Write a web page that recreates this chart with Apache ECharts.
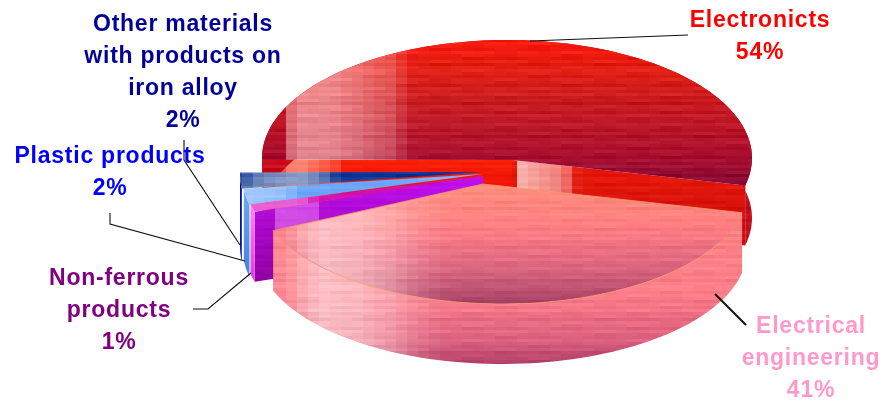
<!DOCTYPE html>
<html>
<head>
<meta charset="utf-8">
<script src="https://cdn.jsdelivr.net/npm/echarts@6/dist/echarts.min.js"></script>
<style>
html, body { margin: 0; padding: 0; background: #fff; }
#chart { width: 885px; height: 401px; }
</style>
</head>
<body>
<div id="chart"></div>
<script>
// draw order is back to front, the percentages go round the pie
const categories = ["Electronicts", "Other materials\nwith products on\niron alloy", "Plastic products", "Non-ferrous\nproducts", "Electrical\nengineering"];
const shares = [54, 2, 2, 1, 41];
const percentLabels = ["54%", "2%", "2%", "1%", "41%"];
const labelColors = ["#ff0000", "#000099", "#0000ff", "#800080", "#ff99cc"];

// where each label sits and where its leader runs
const labelPlaces = [[760, 5], [183, 9], [110, 141], [119, 263], [811, 311]];
const leaders = [
    [[530, 41], [688, 35]],
    [[184, 140], [184, 160], [240, 245]],
    [[110, 213], [110, 224], [245, 261]],
    [[193, 309], [208, 309], [251, 273]],
    [[715, 294], [746, 325]]
];
const leaderWidths = [1, 1.1, 1.1, 1.1, 2];

// slice ellipses: the start angle of the pink slice fixes the whole rotation
const firstAngle = 11;
const sliceOrder = [4, 3, 2, 1, 0];
const geometry = [
    { cx: 507, cy: 158, rx: 245, ry: 118, apex: [512, 160], depth: 60, turn: 2.5 },
    { cx: 485, cy: 173, rx: 245, ry: 130, apex: [483, 172], depth: 73, turn: 3.6 },
    { cx: 487, cy: 173, rx: 245, ry: 130, apex: [483, 174], depth: 72, turn: 3.6 },
    { cx: 488, cy: 173, rx: 245, ry: 127, apex: [483, 176], depth: 70, turn: 3.6 },
    { cx: 502, cy: 190, rx: 245, ry: 114, apex: [483, 184], depth: 60, turn: 0.5 }
];

// streak tables for the blocky picture fill
const rowStreaks = [2, -5, 4, 0, -8, 6, -2, 9, -4, 1, -10, 5, 3, -6, 8, -1, -3, 7, 0, -7, 4, -9, 2, 6];
const blockStreaks = [3, -2, 0, 5, -4, 1, -6, 2, 4, -3, 6, -1, 0, -5, 3];

function hex(c) {
    return [1, 3, 5].map(i => parseInt(c.substr(i, 2), 16));
}

function lookup(stops, v) {
    if (v <= stops[0][0]) return stops[0][1];
    for (let i = 1; i < stops.length; i++) {
        if (v <= stops[i][0]) {
            const a = stops[i - 1], b = stops[i];
            const k = (v - a[0]) / (b[0] - a[0]);
            if (typeof a[1] === "number") return a[1] + (b[1] - a[1]) * k;
            const ca = hex(a[1]), cb = hex(b[1]);
            return "#" + ca.map((x, j) => Math.round(x + (cb[j] - x) * k).toString(16).padStart(2, "0")).join("");
        }
    }
    return stops[stops.length - 1][1];
}

// full frame texture, so the fill can be used with page coordinates
function makeTexture(rows, cols, tint, streak, blockW) {
    const canvas = document.createElement("canvas");
    canvas.width = 885;
    canvas.height = 401;
    const ctx = canvas.getContext("2d");
    const t = hex(tint);
    for (let x = 0; x < 885; x += blockW) {
        const w = lookup(cols, x + blockW / 2);
        for (let y = 0; y < 401; y += 3) {
            const r = Math.floor(y / 3), c = Math.floor(x / blockW);
            const base = hex(lookup(rows, y + 1));
            const n = (rowStreaks[r % rowStreaks.length] + blockStreaks[(r * 3 + c * 7) % blockStreaks.length]) * streak;
            const px = base.map((v, i) => {
                const m = v + (t[i] - v) * w + n;
                return Math.max(0, Math.min(255, Math.round(m)));
            });
            ctx.fillStyle = "rgb(" + px.join(",") + ")";
            ctx.fillRect(x, y, blockW, 3);
        }
    }
    return { image: canvas, repeat: "no-repeat" };
}

const redPale = [[0, 0], [285, 0], [286, 0.45], [300, 0.75], [335, 0.72], [370, 0.5], [395, 0.35], [405, 0.12], [415, 0.03], [885, 0]];
const pinkPale = [[272, 0.08], [288, 0.22], [305, 0.6], [320, 0.8], [360, 0.7], [395, 0.45], [420, 0.2], [450, 0.05], [885, 0]];

const textures = {
    redTop: makeTexture([[40, "#f81408"], [70, "#e01c12"], [100, "#c8181c"], [130, "#b81428"], [155, "#a80c2c"], [190, "#800838"]], redPale, "#f8b0b4", 0.9, 11),
    redLeft: makeTexture([[160, "#f82008"], [190, "#f01008"]], [[0, 0], [278, 0.05], [282, 0.55], [300, 0.65], [335, 0.25], [345, 0], [885, 0]], "#ffc0b0", 0.4, 11),
    redRight: makeTexture([[165, "#e81808"], [250, "#c80c10"]], [[0, 0], [518, 0], [522, 0.75], [555, 0.55], [575, 0.3], [578, 0], [885, 0]], "#ffe0e0", 0.6, 11),
    redWall: makeTexture([[150, "#c80818"], [250, "#c01020"]], [[0, 0], [885, 0]], "#ffffff", 0.8, 11),
    navyTop: makeTexture([[170, "#0030a0"], [180, "#083090"], [190, "#284890"]], [[240, 0.2], [262, 0.55], [300, 0.7], [320, 0.5], [340, 0.05], [885, 0]], "#c8d0e0", 0.8, 11),
    navyWall: makeTexture([[170, "#001080"], [250, "#0818a0"]], [[0, 0], [885, 0]], "#ffffff", 0, 11),
    blueTop: makeTexture([[175, "#60a0ff"], [205, "#4a90f0"]], [[240, 0.7], [285, 0.55], [300, 0.2], [400, 0.15], [485, 0.4]], "#c8e0ff", 0.5, 11),
    blueWall: makeTexture([[190, "#70a8f0"], [265, "#4888e0"]], [[0, 0], [885, 0]], "#ffffff", 0, 11),
    magentaTop: makeTexture([[175, "#c800b0"], [210, "#d000a0"]], [[240, 0.55], [300, 0.55], [320, 0.1], [885, 0]], "#ffb0ff", 0.4, 11),
    magentaCut: makeTexture([[176, "#c010f0"], [280, "#9000a0"]], [[250, 0], [272, 0], [275, 0.45], [315, 0.4], [325, 0], [885, 0]], "#ffa0ff", 0.4, 11),
    magentaWall: makeTexture([[205, "#ff80ff"], [275, "#e040e0"]], [[0, 0], [885, 0]], "#ffffff", 0, 11),
    pinkTop: makeTexture([[184, "#ff8a78"], [225, "#ff7c80"], [250, "#ea6c80"], [275, "#d05c78"], [305, "#a03860"]], pinkPale, "#ffd0d4", 0.7, 11),
    pinkWall: makeTexture([[220, "#f88080"], [290, "#ff7c88"], [320, "#e86880"], [345, "#d45878"], [365, "#a83060"]], pinkPale, "#ffd0d4", 0.8, 11)
};

const faces = [
    { top: "redTop", wall: "redWall", startCut: "redLeft", endCut: "redRight" },
    { top: "navyTop", wall: "navyWall" },
    { top: "blueTop", wall: "blueWall" },
    { top: "magentaTop", wall: "magentaWall", startCut: "magentaCut" },
    { top: "pinkTop", wall: "pinkWall", edge: "#f29a68" }
];

// angle span of each slice, worked out from the percentages
const spans = {};
let running = firstAngle;
sliceOrder.forEach(i => {
    const sweep = shares[i] * 3.6;
    spans[i] = [running, running + sweep];
    running += sweep;
});

function rimPoints(g, from, to, drop) {
    const pts = [];
    const n = Math.max(2, Math.ceil((to - from) / 2));
    for (let k = 0; k <= n; k++) {
        const a = (from + (to - from) * k / n) * Math.PI / 180;
        pts.push([g.cx + g.rx * Math.cos(a), g.cy + g.ry * Math.sin(a) + drop]);
    }
    return pts;
}

function cutFace(g, p, tex) {
    return {
        type: "polygon",
        shape: { points: [g.apex, p, [p[0], p[1] + g.depth], [g.apex[0], g.apex[1] + g.depth]] },
        style: { fill: textures[tex] },
        silent: true
    };
}

function renderSlice(params, api) {
    const i = api.value(0);
    const g = geometry[i];
    const f = faces[i];
    const from = spans[i][0] + g.turn;
    const to = spans[i][1] + g.turn;
    const rim = rimPoints(g, from, to, 0);
    const lower = rimPoints(g, from, to, g.depth).reverse();
    const children = [];
    if (f.endCut) children.push(cutFace(g, rim[rim.length - 1], f.endCut));
    if (f.startCut) children.push(cutFace(g, rim[0], f.startCut));
    children.push({
        type: "polygon",
        shape: { points: rim.concat(lower) },
        style: { fill: textures[f.wall] },
        silent: true
    });
    children.push({
        type: "polygon",
        shape: { points: [g.apex].concat(rim) },
        style: { fill: textures[f.top], stroke: f.edge || null, lineWidth: f.edge ? 0.8 : 0 },
        silent: true
    });
    return { type: "group", children: children };
}

const labelFont = 'bold 23px "Liberation Sans", Arial, sans-serif';

const graphics = [];
leaders.forEach((line, i) => {
    graphics.push({
        type: "polyline",
        z: 10,
        shape: { points: line },
        style: { stroke: "#111", lineWidth: leaderWidths[i], fill: null },
        silent: true
    });
});
categories.forEach((name, i) => {
    graphics.push({
        type: "text",
        z: 11,
        x: labelPlaces[i][0],
        y: labelPlaces[i][1],
        style: {
            text: name + "\n" + percentLabels[i],
            fill: labelColors[i],
            font: labelFont,
            lineHeight: 32,
            align: "center",
            verticalAlign: "top"
        }
    });
});

const chart = echarts.init(document.getElementById("chart"), null, { renderer: "canvas" });

// the labels in the picture are set wide, zrender has no option for it
const layer = chart.getZr().painter.getLayer(0);
if (layer && layer.ctx) layer.ctx.letterSpacing = "0.75px";

chart.setOption({
    animation: false,
    backgroundColor: "#fff",
    graphic: graphics,
    series: [{
        type: "custom",
        coordinateSystem: "none",
        renderItem: renderSlice,
        data: categories.map((c, i) => [i, shares[i]]),
        silent: true
    }]
});

window.addEventListener("resize", () => chart.resize());
</script>
</body>
</html>
